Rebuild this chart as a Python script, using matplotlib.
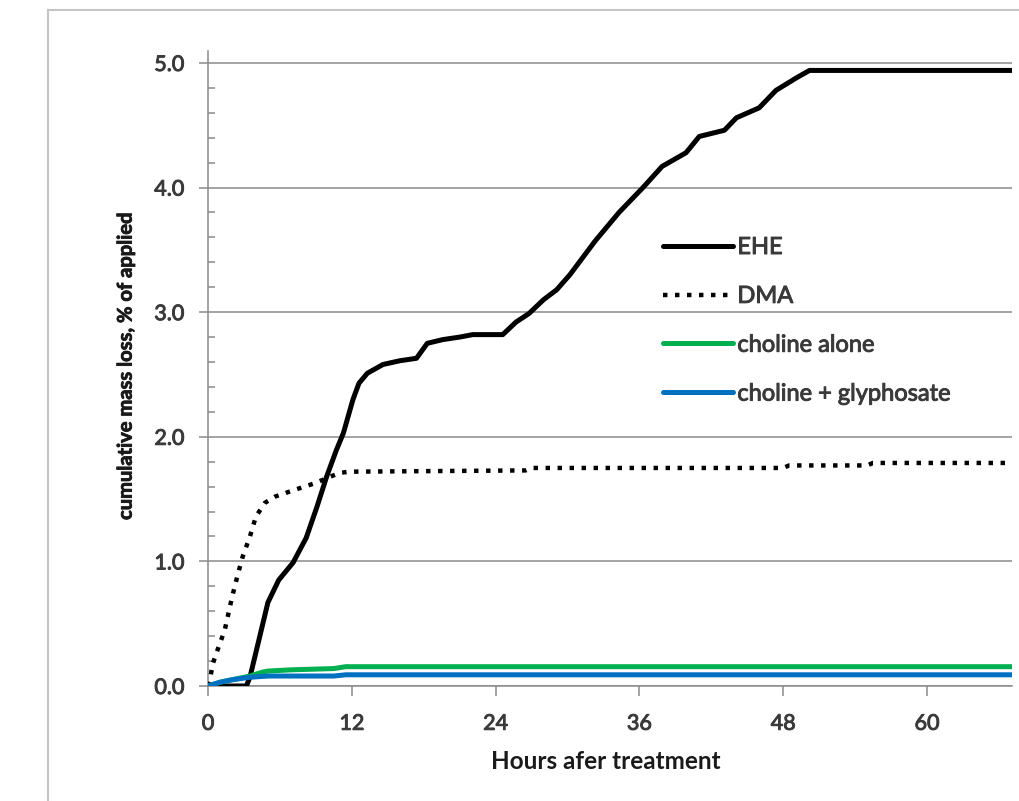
import matplotlib
matplotlib.use("Agg")
import matplotlib.pyplot as plt
import matplotlib.patheffects as pe
from matplotlib.lines import Line2D
from matplotlib.ticker import FixedLocator

plt.rcParams['font.family'] = ['Lato', 'DejaVu Sans']

# Cumulative mass loss (% of applied) vs hours after treatment
ehe_hours = [0, 3.2, 3.5, 4.3, 5.0, 5.9, 7.1, 8.2, 9.1, 9.9, 10.7, 11.3, 12.1, 12.6,
             13.3, 14.6, 16.0, 17.4, 18.3, 19.6, 21.0, 22.1, 24.6, 25.7, 26.8, 28.0,
             29.1, 30.2, 32.3, 34.3, 36.3, 37.9, 39.9, 41.0, 43.1, 44.1, 46.0, 47.4,
             49.1, 50.2, 67.1]
ehe_loss = [0, 0.0, 0.07, 0.39, 0.67, 0.85, 0.99, 1.19, 1.44, 1.68, 1.89, 2.03, 2.30, 2.43,
            2.51, 2.58, 2.61, 2.63, 2.75, 2.78, 2.80, 2.82, 2.82, 2.92, 2.99, 3.10,
            3.18, 3.30, 3.57, 3.80, 4.00, 4.17, 4.28, 4.41, 4.46, 4.56, 4.64, 4.78,
            4.88, 4.94, 4.94]

dma_hours = [0, 0.2, 0.4, 0.8, 1.4, 2.0, 2.5, 2.9, 3.5, 4.0, 4.75, 5.6, 7.1, 9.0, 10.2,
             11.0, 11.8, 26.5, 27.0, 48.0, 48.5, 55.0, 55.5, 67.1]
dma_loss = [0, 0.07, 0.18, 0.29, 0.45, 0.71, 0.90, 1.04, 1.20, 1.36, 1.47, 1.52, 1.57, 1.63,
            1.68, 1.71, 1.72, 1.73, 1.75, 1.75, 1.77, 1.77, 1.79, 1.79]

choline_hours = [0, 1.0, 2.0, 3.5, 4.5, 5.0, 7.0, 10.5, 11.5, 67.1]
choline_loss = [0, 0.03, 0.05, 0.08, 0.11, 0.12, 0.13, 0.14, 0.155, 0.155]

glyph_hours = [0, 1.0, 2.0, 3.5, 5.0, 10.5, 11.5, 67.1]
glyph_loss = [0, 0.03, 0.05, 0.07, 0.08, 0.08, 0.09, 0.09]

series_labels = ["EHE", "DMA", "choline alone", "choline + glyphosate"]
x_ticks = [0, 12, 24, 36, 48, 60]
y_ticks = [0.0, 1.0, 2.0, 3.0, 4.0, 5.0]
y_minor = [v / 5 for v in range(0, 26) if v % 5]

W, H = 1020, 801
fig = plt.figure(figsize=(W / 100, H / 100), dpi=100)
fig.patch.set_facecolor("white")

# outer chart frame (left and top edges)
frame_col = "#c4c4c4"
fig.add_artist(Line2D([48 / W, 48 / W], [0, 1 - 10 / H], color=frame_col, lw=1.5,
                      transform=fig.transFigure))
fig.add_artist(Line2D([48 / W, 1], [1 - 10 / H, 1 - 10 / H], color=frame_col, lw=1.5,
                      transform=fig.transFigure))

ax_left, ax_right, ax_top, ax_bot = 208, 1012, 50.5, 686
ax = fig.add_axes([ax_left / W, 1 - ax_bot / H, (ax_right - ax_left) / W,
                   (ax_bot - ax_top) / H])

ax.plot(ehe_hours, ehe_loss, color="black", lw=3.6, solid_capstyle="round",
        solid_joinstyle="round", label=series_labels[0], zorder=3)
ax.plot(dma_hours, dma_loss, color="black", lw=3.2, linestyle=(0, (1.0, 1.7)),
        label=series_labels[1], zorder=3)
ax.plot(choline_hours, choline_loss, color="#00B050", lw=3.6, solid_capstyle="round",
        label=series_labels[2], zorder=3)
ax.plot(glyph_hours, glyph_loss, color="#0070C0", lw=3.6, solid_capstyle="round",
        label=series_labels[3], zorder=3)

ax.set_xlim(0, 67.1)
ax.set_ylim(0, 5.1)

grid_col = "#8a8a8a"
ax.set_yticks(y_ticks)
ax.set_yticklabels([f"{v:.1f}" for v in y_ticks])
ax.yaxis.set_minor_locator(FixedLocator(y_minor))
ax.set_xticks(x_ticks)
ax.grid(axis="y", which="major", color=grid_col, lw=1.1)
ax.set_axisbelow(True)

for side in ("top", "right"):
    ax.spines[side].set_visible(False)
for side in ("left", "bottom"):
    ax.spines[side].set_color(grid_col)
    ax.spines[side].set_linewidth(1.1)

tick_col = "#3a3a3a"
ax.tick_params(axis="y", which="major", direction="out", length=6.5, width=1.1,
               color=grid_col, pad=10.5, labelsize=15.5, labelcolor=tick_col)
ax.tick_params(axis="y", which="minor", direction="in", length=5, width=1.1,
               color=grid_col)
ax.tick_params(axis="x", which="major", direction="out", length=7, width=1.1,
               color=grid_col, pad=13, labelsize=15.5, labelcolor=tick_col)

# slightly heavier strokes for the medium-weight labels
medium = [pe.withStroke(linewidth=0.7, foreground=tick_col)]
for lbl in ax.get_xticklabels() + ax.get_yticklabels():
    lbl.set_path_effects(medium)

ax.set_xlabel("Hours afer treatment", fontsize=17.5, fontweight="bold", color="#1a1a1a")
ylab = ax.set_ylabel("cumulative mass loss, % of applied", fontsize=14.5,
                     fontweight="bold", color="#1a1a1a")
ylab.set_path_effects([pe.withStroke(linewidth=0.6, foreground="#1a1a1a")])
ax.xaxis.set_label_coords(0.495, -0.1)
ax.yaxis.set_label_coords(-0.09, 0.503)

leg = ax.legend(loc="upper left", bbox_to_anchor=((663 - ax_left) / (ax_right - ax_left),
                (ax_bot - 237) / (ax_bot - ax_top)),
                frameon=False, fontsize=17, handlelength=2.95, handletextpad=0.2,
                labelspacing=1.18, borderpad=0, borderaxespad=0)
for t in leg.get_texts():
    t.set_color(tick_col)
    t.set_path_effects(medium)

fig.savefig("out.png", dpi=100)
